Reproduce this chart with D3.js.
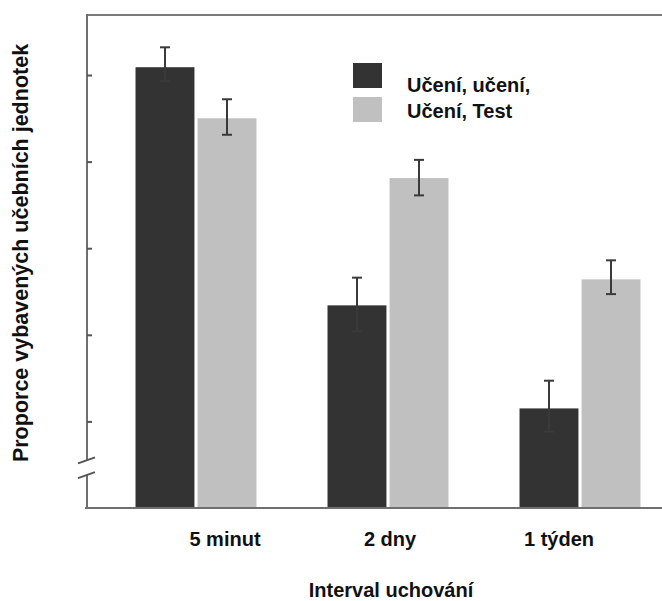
<!DOCTYPE html>
<html>
<head>
<meta charset="utf-8">
<script src="https://cdn.jsdelivr.net/npm/d3@7"></script>
<style>
  body { margin: 0; background: #fff; }
  text { font-family: "Liberation Sans", Arial, sans-serif; font-weight: bold; fill: #111; }
</style>
</head>
<body>
<svg id="chart" width="662" height="601"></svg>
<script>
// data
const intervals = ["5 minut", "2 dny", "1 týden"];
const series = ["Učení, učení,", "Učení, Test"];
const studyStudy = [0.809, 0.534, 0.415];
const studyTest = [0.750, 0.681, 0.564];
const ssErrLo = [0.793, 0.504, 0.388];
const ssErrHi = [0.832, 0.566, 0.447];
const stErrLo = [0.731, 0.661, 0.547];
const stErrHi = [0.772, 0.702, 0.586];
const yTicks = [0.4, 0.5, 0.6, 0.7, 0.8];

const colors = ["#333333", "#c0c0c0"];
const labelNudge = [29, 2, -21];

const svg = d3.select("#chart");
const plotL = 87, plotR = 662, plotT = 15, plotB = 508;

const y = d3.scaleLinear()
  .domain([0.3, 0.8693])
  .range([plotB, plotT]);

const x0 = d3.scaleBand()
  .domain(intervals)
  .range([100, 676])
  .paddingInner(0.37)
  .paddingOuter(0.185);

const x1 = d3.scaleBand()
  .domain(series)
  .range([0, x0.bandwidth()])
  .paddingInner(0.05);

const rows = intervals.map((k, i) => ({
  key: k,
  vals: [
    { s: series[0], v: studyStudy[i], lo: ssErrLo[i], hi: ssErrHi[i] },
    { s: series[1], v: studyTest[i], lo: stErrLo[i], hi: stErrHi[i] }
  ]
}));

// frame: top line
svg.append("line")
  .attr("x1", plotL).attr("x2", plotR)
  .attr("y1", plotT).attr("y2", plotT)
  .attr("stroke", "#7a7a7a").attr("stroke-width", 2);

// bars
const groups = svg.selectAll("g.grp")
  .data(rows)
  .enter().append("g")
  .attr("class", "grp")
  .attr("transform", d => `translate(${x0(d.key)},0)`);

groups.selectAll("rect")
  .data(d => d.vals)
  .enter().append("rect")
  .attr("x", d => x1(d.s))
  .attr("width", x1.bandwidth())
  .attr("y", d => y(d.v))
  .attr("height", d => y(0.3) - y(d.v))
  .attr("fill", (d, i) => colors[i]);

// error bars
const err = groups.selectAll("g.err")
  .data(d => d.vals)
  .enter().append("g")
  .attr("class", "err")
  .attr("stroke", "#3a3a3a")
  .attr("stroke-width", 2);

err.append("line")
  .attr("x1", d => x1(d.s) + x1.bandwidth() / 2)
  .attr("x2", d => x1(d.s) + x1.bandwidth() / 2)
  .attr("y1", d => y(d.hi))
  .attr("y2", d => y(d.lo));
err.append("line")
  .attr("x1", d => x1(d.s) + x1.bandwidth() / 2 - 5)
  .attr("x2", d => x1(d.s) + x1.bandwidth() / 2 + 5)
  .attr("y1", d => y(d.hi)).attr("y2", d => y(d.hi));
err.append("line")
  .attr("x1", d => x1(d.s) + x1.bandwidth() / 2 - 5)
  .attr("x2", d => x1(d.s) + x1.bandwidth() / 2 + 5)
  .attr("y1", d => y(d.lo)).attr("y2", d => y(d.lo));

// bottom axis line
svg.append("line")
  .attr("x1", plotL - 2).attr("x2", plotR)
  .attr("y1", plotB).attr("y2", plotB)
  .attr("stroke", "#6f6f6f").attr("stroke-width", 2);

// y axis with break
const breakHi = 0.355, breakLo = 0.338;
svg.append("line")
  .attr("x1", plotL).attr("x2", plotL)
  .attr("y1", plotT - 1).attr("y2", y(breakHi))
  .attr("stroke", "#6f6f6f").attr("stroke-width", 2);
svg.append("line")
  .attr("x1", plotL).attr("x2", plotL)
  .attr("y1", y(breakLo)).attr("y2", plotB)
  .attr("stroke", "#6f6f6f").attr("stroke-width", 2);
[breakHi, breakLo].forEach(b => {
  svg.append("line")
    .attr("x1", plotL - 9).attr("x2", plotL + 8)
    .attr("y1", y(b) + 3).attr("y2", y(b) - 3)
    .attr("stroke", "#555").attr("stroke-width", 2);
});

const yAxis = svg.append("g")
  .attr("transform", `translate(${plotL},0)`)
  .call(d3.axisRight(y).tickValues(yTicks).tickSize(5).tickFormat(""));
yAxis.select(".domain").remove();
yAxis.selectAll(".tick line").attr("stroke", "#555").attr("stroke-width", 2);

// x labels
svg.selectAll("text.xl")
  .data(intervals)
  .enter().append("text")
  .attr("class", "xl")
  .attr("x", (d, i) => x0(d) + x0.bandwidth() / 2 + labelNudge[i])
  .attr("y", 546)
  .attr("text-anchor", "middle")
  .style("font-size", "20px")
  .text(d => d);

// titles
svg.append("text")
  .attr("x", 391).attr("y", 597)
  .attr("text-anchor", "middle")
  .style("font-size", "20px")
  .text("Interval uchování");

svg.append("text")
  .attr("transform", "translate(28,253) rotate(-90)")
  .attr("text-anchor", "middle")
  .style("font-size", "21.5px")
  .text("Proporce vybavených učebních jednotek");

// legend
const legend = svg.append("g").attr("transform", "translate(353,63)");
series.forEach((s, i) => {
  legend.append("rect")
    .attr("x", 0).attr("y", i * 34)
    .attr("width", 29).attr("height", 25)
    .attr("fill", colors[i]);
  legend.append("text")
    .attr("x", 54).attr("y", 29 + i * 26)
    .style("font-size", "20px")
    .text(s);
});
</script>
</body>
</html>
